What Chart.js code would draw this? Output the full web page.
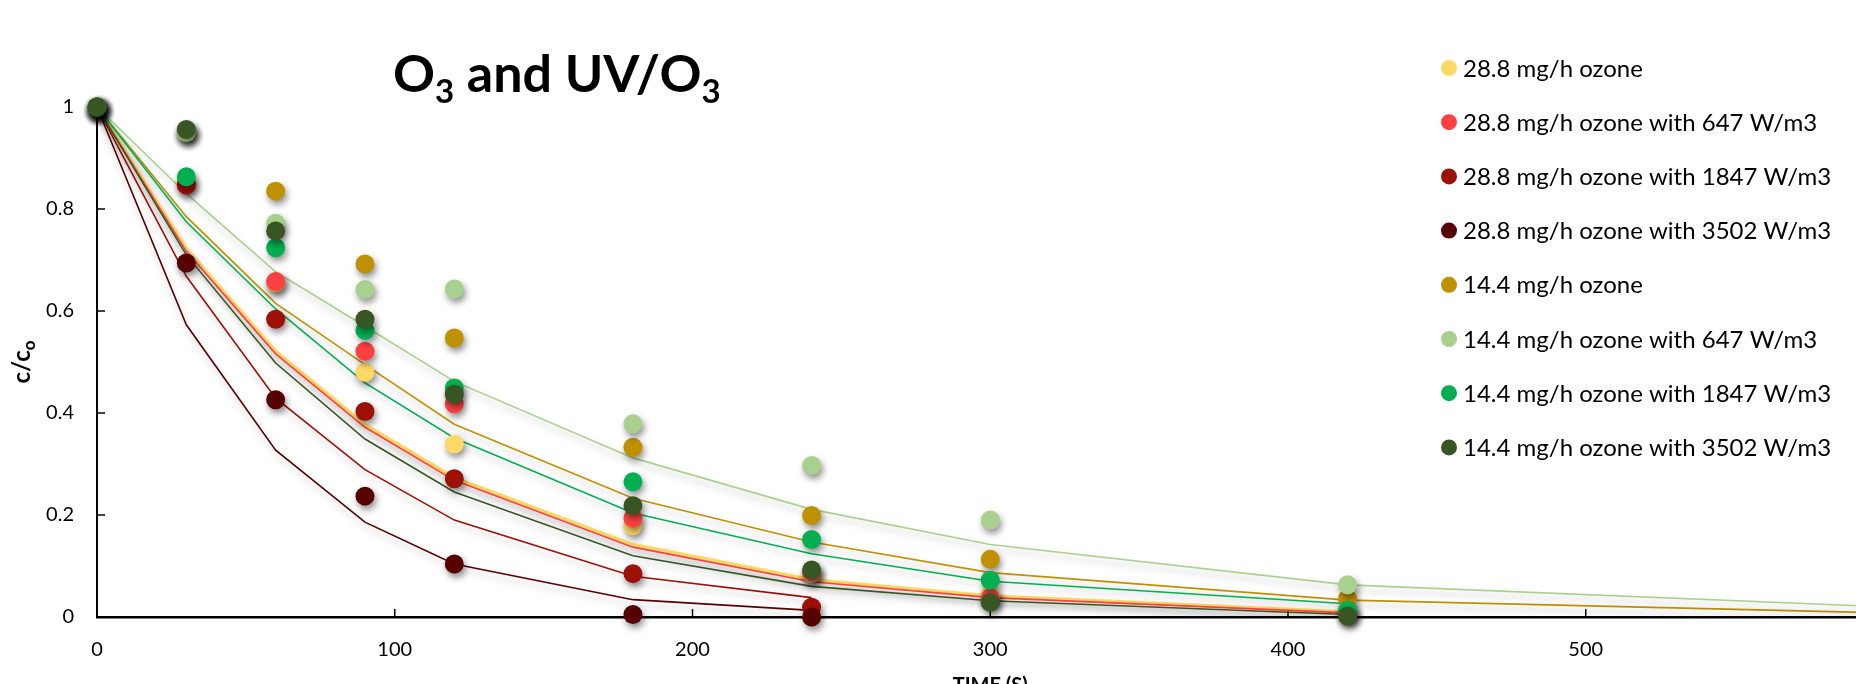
<!DOCTYPE html>
<html>
<head>
<meta charset="utf-8">
<script src="https://cdn.jsdelivr.net/npm/chart.js@4.4.1/dist/chart.umd.min.js"></script>
<style>
    html, body { margin: 0; padding: 0; background: #fff; overflow: hidden; }
    #wrap { position: relative; width: 1893px; height: 700px; }
</style>
</head>
<body>
<div id="wrap"><canvas id="ozoneChart"></canvas></div>
<script>
// measured sample times (s) and fitted-curve times
const times = [0, 30, 60, 90, 120, 180, 240, 300, 420];
const fitTimes = [0, 30, 60, 90, 120, 180, 240, 300, 420, 600];

const seriesNames = [
    '28.8 mg/h ozone',
    '28.8 mg/h ozone with 647 W/m3',
    '28.8 mg/h ozone with 1847 W/m3',
    '28.8 mg/h ozone with 3502 W/m3',
    '14.4 mg/h ozone',
    '14.4 mg/h ozone with 647 W/m3',
    '14.4 mg/h ozone with 1847 W/m3',
    '14.4 mg/h ozone with 3502 W/m3'
];

// measured C/Co
const o3_288      = [1, 0.95, 0.655, 0.48, 0.339, 0.179, 0.085, 0.044, 0.01];
const o3_288_647  = [1, 0.85, 0.658, 0.521, 0.418, 0.194, 0.088, 0.038, 0.008];
const o3_288_1847 = [1, 0.847, 0.584, 0.403, 0.271, 0.085, 0.019, null, null];
const o3_288_3502 = [1, 0.694, 0.426, 0.237, 0.104, 0.005, 0.0, null, null];
const o3_144      = [1, 0.952, 0.835, 0.692, 0.547, 0.333, 0.199, 0.113, 0.036];
const o3_144_647  = [1, 0.95, 0.772, 0.642, 0.643, 0.379, 0.297, 0.19, 0.063];
const o3_144_1847 = [1, 0.863, 0.724, 0.562, 0.449, 0.265, 0.152, 0.072, 0.013];
const o3_144_3502 = [1, 0.956, 0.757, 0.584, 0.437, 0.218, 0.092, 0.029, 0.002];

// fitted model curves
const fit_288      = [1, 0.722, 0.521, 0.377, 0.273, 0.142, 0.073, 0.041, 0.010];
const fit_288_647  = [1, 0.717, 0.516, 0.372, 0.268, 0.137, 0.069, 0.038, 0.008];
const fit_288_1847 = [1, 0.668, 0.429, 0.289, 0.190, 0.080, 0.038];
const fit_288_3502 = [1, 0.573, 0.327, 0.186, 0.104, 0.034, 0.013];
const fit_144      = [1, 0.785, 0.615, 0.495, 0.378, 0.233, 0.147, 0.087, 0.033, 0.008];
const fit_144_647  = [1, 0.83, 0.677, 0.570, 0.462, 0.312, 0.211, 0.142, 0.063, 0.02];
const fit_144_1847 = [1, 0.775, 0.604, 0.459, 0.351, 0.204, 0.124, 0.070, 0.026];
const fit_144_3502 = [1, 0.710, 0.498, 0.349, 0.245, 0.120, 0.060, 0.032, 0.005];

const yTicks = [0, 0.2, 0.4, 0.6, 0.8, 1];
const xTicks = [0, 100, 200, 300, 400, 500];

const measured = [o3_288, o3_288_647, o3_288_1847, o3_288_3502, o3_144, o3_144_647, o3_144_1847, o3_144_3502];
const fitted = [fit_288, fit_288_647, fit_288_1847, fit_288_3502, fit_144, fit_144_647, fit_144_1847, fit_144_3502];
const colors = ['#FFD966', '#FF4040', '#9C1006', '#560000', '#BF9000', '#A9D18E', '#00B050', '#375623'];

function toPoints(xs, ys) {
    return ys.map((y, i) => ({ x: xs[i], y: y })).filter(p => p.y !== null);
}

const datasets = [];
fitted.forEach((vals, i) => {
    datasets.push({
        label: seriesNames[i] + ' (fit)',
        data: toPoints(fitTimes, vals),
        showLine: true,
        borderColor: colors[i],
        borderWidth: i === 0 ? 3.5 : 1.6,
        pointRadius: 0,
        fill: false,
        isFit: true,
        order: 40 - i + (i === 0 ? 5 : 0)
    });
});
measured.forEach((vals, i) => {
    datasets.push({
        label: seriesNames[i],
        data: toPoints(times, vals),
        showLine: false,
        backgroundColor: colors[i],
        borderColor: colors[i],
        borderWidth: 0,
        pointRadius: 9.5,
        clip: false,
        order: 8 - i
    });
});

const FONT = 'Lato, "Open Sans", sans-serif';

// soft drop shadow like the spreadsheet effect
const shadowPlugin = {
    id: 'shadow',
    beforeDatasetDraw(chart, args) {
        const ctx = chart.ctx;
        ctx.save();
        if (args.meta._dataset.isFit) {
            ctx.shadowColor = 'rgba(0,0,0,0.25)';
            ctx.shadowBlur = 7;
            ctx.shadowOffsetX = 1;
            ctx.shadowOffsetY = 5;
        } else {
            ctx.shadowColor = 'rgba(0,0,0,0.45)';
            ctx.shadowBlur = 7;
            ctx.shadowOffsetX = 2;
            ctx.shadowOffsetY = 4;
        }
    },
    afterDatasetDraw(chart) {
        chart.ctx.restore();
    }
};

// inside tick marks, titles and legend
const decorPlugin = {
    id: 'decor',
    beforeDatasetsDraw(chart) {
        const ctx = chart.ctx;
        const { left, bottom } = chart.chartArea;
        ctx.save();
        ctx.strokeStyle = '#000';
        ctx.lineWidth = 1.5;
        yTicks.forEach(v => {
            if (v === 0) return;
            const py = chart.scales.y.getPixelForValue(v);
            ctx.beginPath();
            ctx.moveTo(left, py);
            ctx.lineTo(left + 8, py);
            ctx.stroke();
        });
        xTicks.forEach(v => {
            if (v === 0) return;
            const px = chart.scales.x.getPixelForValue(v);
            ctx.beginPath();
            ctx.moveTo(px, bottom);
            ctx.lineTo(px, bottom - 8);
            ctx.stroke();
        });
        ctx.restore();
    },
    afterDraw(chart) {
        const ctx = chart.ctx;
        ctx.save();
        ctx.fillStyle = '#000';
        ctx.textBaseline = 'alphabetic';
        ctx.textAlign = 'left';

        // chart title with subscripts
        const big = 'bold 52px ' + FONT;
        const sub = 'bold 33px ' + FONT;
        let x = 393;
        const base = 92;
        const parts = [['O', big, 0], ['3', sub, 11], [' and UV/O', big, 0], ['3', sub, 11]];
        parts.forEach(p => {
            ctx.font = p[1];
            ctx.fillText(p[0], x, base + p[2]);
            x += ctx.measureText(p[0]).width;
        });

        // y axis title c/co, rotated
        ctx.save();
        ctx.translate(30, 362);
        ctx.rotate(-Math.PI / 2);
        ctx.font = 'bold 24px ' + FONT;
        const w1 = ctx.measureText('c/c').width;
        ctx.font = 'bold 17px ' + FONT;
        const w2 = ctx.measureText('o').width;
        let tx = -(w1 + w2) / 2;
        ctx.font = 'bold 24px ' + FONT;
        ctx.fillText('c/c', tx, 0);
        ctx.font = 'bold 17px ' + FONT;
        ctx.fillText('o', tx + w1, 5);
        ctx.restore();

        // x axis title
        ctx.font = 'bold 20px ' + FONT;
        ctx.textAlign = 'center';
        const { left, right } = chart.chartArea;
        ctx.fillText('TIME (S)', (left + right) / 2, 692);

        // legend
        ctx.textAlign = 'left';
        ctx.font = '24px ' + FONT;
        seriesNames.forEach((name, i) => {
            const cy = 68 + i * 54.2;
            ctx.beginPath();
            ctx.fillStyle = colors[i];
            ctx.arc(1449, cy, 8, 0, Math.PI * 2);
            ctx.fill();
            ctx.fillStyle = '#000';
            ctx.fillText(name, 1463, cy + 8.6);
        });
        ctx.restore();
    }
};

const chart = new Chart(document.getElementById('ozoneChart'), {
    type: 'scatter',
    data: { datasets: datasets },
    options: {
        responsive: true,
        maintainAspectRatio: false,
        animation: false,
        layout: { padding: { left: 0, top: 107, right: 2, bottom: 0 } },
        plugins: {
            legend: { display: false },
            title: { display: false },
            tooltip: { enabled: false }
        },
        scales: {
            x: {
                type: 'linear',
                min: 0,
                max: 600,
                afterFit: s => { s.height = 83; },
                afterBuildTicks: s => { s.ticks = xTicks.map(v => ({ value: v })); },
                grid: { display: true, drawOnChartArea: false, drawTicks: false },
                border: { color: '#000', width: 2.5 },
                ticks: { color: '#000', font: { family: FONT, size: 20 }, padding: 21 }
            },
            y: {
                type: 'linear',
                min: 0,
                max: 1,
                afterFit: s => { s.width = 97; },
                afterBuildTicks: s => { s.ticks = yTicks.map(v => ({ value: v })); },
                grid: { display: true, drawOnChartArea: false, drawTicks: false },
                border: { color: '#000', width: 2 },
                ticks: {
                    color: '#000',
                    font: { family: FONT, size: 20 },
                    padding: 23,
                    callback: v => String(Math.round(v * 10) / 10)
                }
            }
        }
    },
    plugins: [shadowPlugin, decorPlugin]
});
</script>
</body>
</html>
